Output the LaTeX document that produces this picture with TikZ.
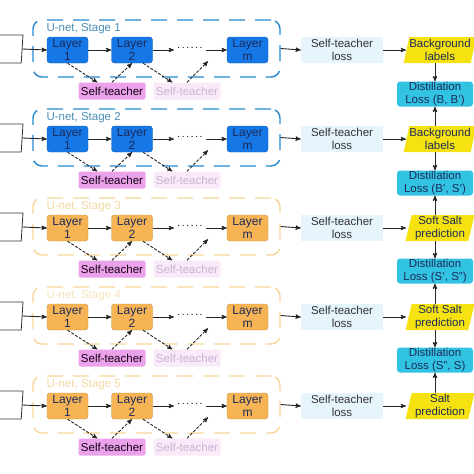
\documentclass[tikz,border=0pt]{standalone}
\usepackage{fontspec}
\setmainfont{Liberation Sans}
\usetikzlibrary{arrows}
\usetikzlibrary{calc}
\usetikzlibrary{positioning, shapes.geometric}

\definecolor{layerblue}{HTML}{1677E6}
\definecolor{layerorange}{HTML}{F7B454}
\definecolor{frameblue}{HTML}{2388D0}
\definecolor{frameorange}{HTML}{F6D597}
\definecolor{stageblue}{HTML}{4A8DB5}
\definecolor{stageorange}{HTML}{F2D8A0}
\definecolor{stagepale}{HTML}{F5E4BC}
\definecolor{teachpink}{HTML}{EBA2EA}
\definecolor{teachpale}{HTML}{F9E9F9}
\definecolor{teachtext}{HTML}{C9B4D2}
\definecolor{lossblue}{HTML}{E6F5FB}
\definecolor{distcyan}{HTML}{33C3E2}
\definecolor{labyellow}{HTML}{F5E210}
\definecolor{navytext}{HTML}{1B2B5A}

\tikzset{
  layer/.style={draw=#1!80!black, fill=#1, rounded corners=3pt, minimum width=41pt,
    minimum height=26pt, inner sep=0pt, align=center, text=navytext,
    font=\fontsize{12}{13}\selectfont},
  frame/.style={draw=#1, rounded corners=9pt, line width=1.4pt, dash pattern=on 16pt off 10pt,
    minimum width=247pt, minimum height=57pt},
  teacher/.style={fill=#1, rounded corners=2pt, minimum width=67pt, minimum height=17pt,
    inner sep=0pt, font=\fontsize{11.5}{12}\selectfont},
  lossbox/.style={fill=lossblue, minimum width=82pt, minimum height=26pt, inner sep=0pt,
    align=center, text=black!80, font=\fontsize{11.5}{12.5}\selectfont},
  distbox/.style={fill=distcyan, rounded corners=3pt, minimum width=76pt, minimum height=25pt,
    inner sep=0pt, align=center, text=navytext, font=\fontsize{11.5}{12.5}\selectfont},
  labbox/.style={fill=labyellow, shape=trapezium, trapezium left angle=75, trapezium right angle=105,
    trapezium stretches body, minimum width=69pt, minimum height=26pt, inner sep=0pt,
    align=center, text=navytext, font=\fontsize{11.5}{12.5}\selectfont},
  inbox/.style={draw=black!80, line width=0.8pt, shape=trapezium, trapezium left angle=75,
    trapezium right angle=105, trapezium stretches body, minimum width=44pt, minimum height=28pt},
  arr/.style={-stealth', line width=0.9pt, black!85},
  darr/.style={-stealth', line width=0.9pt, black!85, dash pattern=on 3pt off 1.5pt}
}

\begin{document}
\begin{tikzpicture}[x=1pt, y=-1pt]
  \useasboundingbox (0,0) rectangle (474,474);

  \foreach \i/\y/\lc/\fc/\sc/\lab in {1/50/layerblue/frameblue/stageblue/Background\\labels,
      2/139/layerblue/frameblue/stageblue/Background\\labels,
      3/228/layerorange/frameorange/stageorange/Soft Salt\\prediction,
      4/317/layerorange/frameorange/stagepale/Soft Salt\\prediction,
      5/406/layerorange/frameorange/stageorange/Salt\\prediction}{
    % one U-net stage
    \node[frame=\fc] (box-\i) at (156.5, \y-1.5) {};
    \node[anchor=west, text=\sc, font=\fontsize{11.5}{12}\selectfont] (stage-\i) at (43, \y-21) {U-net, Stage \i};
    \node[inbox] (in-\i) at (1, \y-1) {};
    \node[layer=\lc] (l1-\i) at (67.5, \y) {Layer\\1};
    \node[layer=\lc] (l2-\i) at (132, \y) {Layer\\2};
    \node[font=\fontsize{10}{10}\selectfont] (dots-\i) at (190, \y-2) {.\,.\,.\,.\,.\,.};
    \node[layer=\lc] (lm-\i) at (247.5, \y) {Layer\\m};
    \node[teacher=teachpink, text=black!85!violet] (st-\i) at (112, \y+41) {Self-teacher};
    \node[teacher=teachpale, text=teachtext] (stb-\i) at (187, \y+41) {Self-teacher};
    \coordinate (free-\i) at ($(stb-\i.north)+(21,-21)$);

    \draw[arr] (in-\i.east) -- (l1-\i.west);
    \draw[arr] (l1-\i) -- (l2-\i);
    \draw[arr] (l2-\i.east) -- (dots-\i.west |- l2-\i.east);
    \draw[arr] (dots-\i.east |- lm-\i.west) -- (lm-\i.west);
    \draw[darr] (l1-\i.south) -- ($(st-\i.north west)+(19,0)$);
    \draw[darr] (st-\i.north) -- (l2-\i.south);
    \draw[darr] ($(l2-\i.south)+(11,0)$) -- ($(stb-\i.north west)+(19,0)$);
    \draw[darr] (stb-\i.north) -- (free-\i);

    % losses on the right
    \node[lossbox] (loss-\i) at (342, \y) {Self-teacher\\loss};
    \node[labbox] (lab-\i) at (440, \y) {\lab};
    \draw[arr] (box-\i.east) -- (loss-\i.west);
    \draw[arr] (loss-\i.east) -- (406, \y);
  }

  \foreach \i/\y/\txt in {1/94/{Loss (B, B')}, 2/183/{Loss (B', S')}, 3/271/{Loss (S', S'')}, 4/360/{Loss (S'', S)}}{
    \pgfmathtruncatemacro\j{\i+1}
    \node[distbox] (dist-\i) at (435, \y) {Distillation\\\txt};
    \draw[arr] (lab-\i.south -| dist-\i.north) -- (dist-\i.north);
    \draw[arr] (lab-\j.north -| dist-\i.south) -- (dist-\i.south);
  }
\end{tikzpicture}
\end{document}
